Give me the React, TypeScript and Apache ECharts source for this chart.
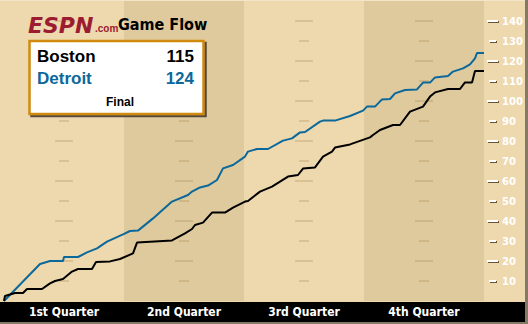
import React, { useEffect, useRef } from 'react';
import * as echarts from 'echarts';

const quarterLabels = ['1st Quarter', '2nd Quarter', '3rd Quarter', '4th Quarter'];
const teamNames = ['Boston', 'Detroit'];
const finalScores = [115, 124];
const gameStatus = 'Final';

const detroitTimes = [0, 3.6, 4.6, 5.9, 6.0, 7.4, 8.3, 9.3, 10.3, 11.9, 12.6, 13.4, 14.9, 16.8, 18.4, 18.8, 19.6, 20.4, 21.3, 21.9, 22.9, 24.1, 24.4, 25.3, 26.4, 27.9, 28.8, 29.6, 30.1, 31.6, 31.9, 33.1, 34.6, 35.9, 36.3, 37.1, 37.8, 38.6, 39.1, 40.1, 41.3, 41.9, 42.6, 43.1, 44.4, 44.9, 45.9, 46.6, 47.1, 47.3, 48];
const detroitScores = [0, 18.5, 20, 20, 22, 22, 24.3, 26.3, 29.7, 33.3, 35, 35.2, 41.3, 49.7, 53, 54.7, 56.8, 57.7, 60.5, 66.3, 68, 72.2, 74.7, 76, 76, 80.2, 81.3, 84.3, 84.5, 89.7, 90.2, 90.2, 92.5, 95.2, 97.2, 97.2, 100.8, 101, 103.8, 105.5, 105.8, 109.2, 109.2, 111.8, 112.5, 114.7, 116.3, 118.3, 121.3, 124, 124];

const bostonTimes = [0, 0.1, 1.1, 1.9, 2.3, 3.8, 4.6, 5.1, 5.9, 6.8, 7.4, 8.8, 9.2, 10.6, 11.6, 12.9, 13.3, 16.8, 18.1, 18.8, 19.1, 19.9, 20.8, 22.1, 22.9, 24.1, 24.4, 25.6, 26.8, 28.4, 29.4, 29.9, 31.1, 31.9, 32.8, 33.1, 34.6, 36.6, 36.9, 37.6, 38.9, 39.6, 40.6, 41.9, 42.6, 43.1, 44.4, 45.6, 46.1, 46.8, 47.1, 48];
const bostonScores = [0, 2.5, 4, 4, 6, 6, 8.8, 10, 11, 14.7, 16, 16, 19.5, 19.8, 21, 23.8, 29.2, 30.3, 33.8, 36, 38, 39.2, 44.2, 44.2, 46.7, 49.7, 50, 54.7, 57.2, 62.2, 63, 66.2, 66.8, 72.2, 74.7, 76.7, 78.3, 81.8, 83, 85.5, 88, 88, 94.7, 97.2, 102.2, 104.3, 106, 106, 109.3, 109.3, 115, 115];

const yTickValues = [10, 20, 30, 40, 50, 60, 70, 80, 90, 100, 110, 120, 130, 140];
const quarterCenters = [6, 18, 30, 42];
const darkQuarters = [[12, 24], [36, 48]];

const LIGHT = '#EED8AE';
const DARK = '#DFCA9E';
const BLUE = '#0B689B';

export default function App() {
  const ref = useRef<HTMLDivElement>(null);
  useEffect(() => {
    document.body.style.margin = '0';
    const chart = echarts.init(ref.current!, undefined, { renderer: 'svg' });
    const pairs = (ts: number[], vs: number[]) => ts.map((t, i) => [t, vs[i]]);
    const longDashes: number[][] = [];
    const shortDashes: number[][] = [];
    quarterCenters.forEach((c) => {
      yTickValues.forEach((v) => {
        if ((v / 10) % 2 === 0) longDashes.push([c, v]);
        else shortDashes.push([c, v]);
      });
    });
    const tickShadow = { shadowColor: '#6b5633', shadowOffsetX: 1, shadowOffsetY: 1, shadowBlur: 0 };
    chart.setOption({
      animation: false,
      backgroundColor: LIGHT,
      grid: { left: 4, right: 44, top: 1, bottom: 23 },
      xAxis: [
        { type: 'value', min: 0, max: 48, show: false },
        {
          type: 'category',
          data: quarterLabels,
          boundaryGap: true,
          position: 'bottom',
          z: 10,
          axisLine: { show: false },
          axisTick: { show: false },
          splitLine: { show: false },
          axisLabel: {
            color: '#ffffff',
            fontWeight: 'bold',
            fontSize: 12,
            fontFamily: "'DejaVu Sans Condensed', sans-serif",
            margin: 11,
            verticalAlign: 'middle',
          },
        },
      ],
      yAxis: [
        {
          type: 'value',
          min: 0,
          max: 150,
          interval: 10,
          position: 'right',
          axisLine: { show: false },
          axisTick: { show: false },
          splitLine: { show: false },
          axisLabel: {
            margin: 3,
            align: 'left',
            formatter: (v: number) => {
              if (v <= 0 || v >= 150) return '';
              return (v / 10) % 2 === 0
                ? `{L|}{g|}{n|${v}}`
                : `{p|}{S|}{p|}{g|}{n|${v}}`;
            },
            rich: {
              L: { width: 11, height: 2, backgroundColor: '#ffffff', ...tickShadow },
              S: { width: 7, height: 2, backgroundColor: '#ffffff', ...tickShadow },
              p: { width: 2, height: 2 },
              g: { width: 4, height: 2 },
              n: {
                color: '#ffffff',
                fontWeight: 'bold',
                fontSize: 10,
                fontFamily: "'DejaVu Sans', sans-serif",
                textShadowColor: '#6b5633',
                textShadowOffsetX: 1,
                textShadowOffsetY: 1,
                textShadowBlur: 0,
              },
            },
          },
        },
      ],
      series: [
        {
          type: 'line',
          name: 'bands',
          data: [],
          z: 1,
          silent: true,
          markArea: {
            silent: true,
            itemStyle: { color: DARK },
            data: darkQuarters.map(([a, b]) => [{ xAxis: a }, { xAxis: b }]),
          },
        },
        {
          type: 'scatter',
          name: 'long',
          data: longDashes,
          symbol: 'rect',
          symbolSize: [18, 2],
          itemStyle: { color: 'rgba(160,120,60,0.3)' },
          z: 2,
          silent: true,
        },
        {
          type: 'scatter',
          name: 'short',
          data: shortDashes,
          symbol: 'rect',
          symbolSize: [10, 2],
          itemStyle: { color: 'rgba(160,120,60,0.3)' },
          z: 2,
          silent: true,
        },
        {
          type: 'line',
          name: teamNames[1],
          data: pairs(detroitTimes, detroitScores),
          showSymbol: false,
          lineStyle: { color: BLUE, width: 2 },
          z: 3,
        },
        {
          type: 'line',
          name: teamNames[0],
          data: pairs(bostonTimes, bostonScores),
          showSymbol: false,
          lineStyle: { color: '#000000', width: 2 },
          z: 4,
        },
      ],
      graphic: [
        { type: 'rect', z: -5, shape: { x: 0, y: 0, width: 528, height: 1 }, style: { fill: 'rgba(255,255,255,0.35)' } },
        { type: 'rect', z: -5, shape: { x: 0, y: 302, width: 525, height: 20 }, style: { fill: '#000000' } },
        { type: 'rect', z: -5, shape: { x: 0, y: 322, width: 528, height: 2 }, style: { fill: '#857866' } },
        { type: 'rect', z: -5, shape: { x: 525, y: 0, width: 3, height: 324 }, style: { fill: '#857866' } },
        {
          type: 'text', z: 100, x: 28, y: 14,
          style: { text: 'ESPN', fill: '#9B1B30', font: "italic bold 22px 'DejaVu Sans', sans-serif" },
        },
        {
          type: 'text', z: 100, x: 95, y: 23,
          style: { text: '.com', fill: '#9B1B30', font: "bold 10px 'Liberation Sans', sans-serif" },
        },
        {
          type: 'text', z: 100, x: 118, y: 16,
          style: { text: 'Game Flow', fill: '#000000', font: "bold 16px 'DejaVu Sans Condensed', sans-serif" },
        },
        {
          type: 'rect', z: 100,
          shape: { x: 29.5, y: 41, width: 174, height: 73 },
          style: { fill: '#ffffff', stroke: '#D08A10', lineWidth: 2.5, shadowColor: '#54493a', shadowOffsetX: 2, shadowOffsetY: 2, shadowBlur: 0 },
        },
        {
          type: 'text', z: 101, x: 37, y: 56,
          style: { text: teamNames[0], fill: '#000000', font: "bold 17px 'Liberation Sans', sans-serif", verticalAlign: 'middle' },
        },
        {
          type: 'text', z: 101, x: 194, y: 56,
          style: { text: String(finalScores[0]), fill: '#000000', font: "bold 17px 'Liberation Sans', sans-serif", align: 'right', verticalAlign: 'middle' },
        },
        {
          type: 'text', z: 101, x: 37, y: 78,
          style: { text: teamNames[1], fill: BLUE, font: "bold 17px 'Liberation Sans', sans-serif", verticalAlign: 'middle' },
        },
        {
          type: 'text', z: 101, x: 194, y: 78,
          style: { text: String(finalScores[1]), fill: BLUE, font: "bold 17px 'Liberation Sans', sans-serif", align: 'right', verticalAlign: 'middle' },
        },
        {
          type: 'text', z: 101, x: 120, y: 102,
          style: { text: gameStatus, fill: '#000000', font: "bold 12px 'Liberation Sans', sans-serif", align: 'center', verticalAlign: 'middle' },
        },
      ],
    });
    return () => chart.dispose();
  }, []);
  return (
    <div
      ref={ref}
      style={{ position: 'fixed', left: 0, top: 0, width: 528, height: 324 }}
    />
  );
}
